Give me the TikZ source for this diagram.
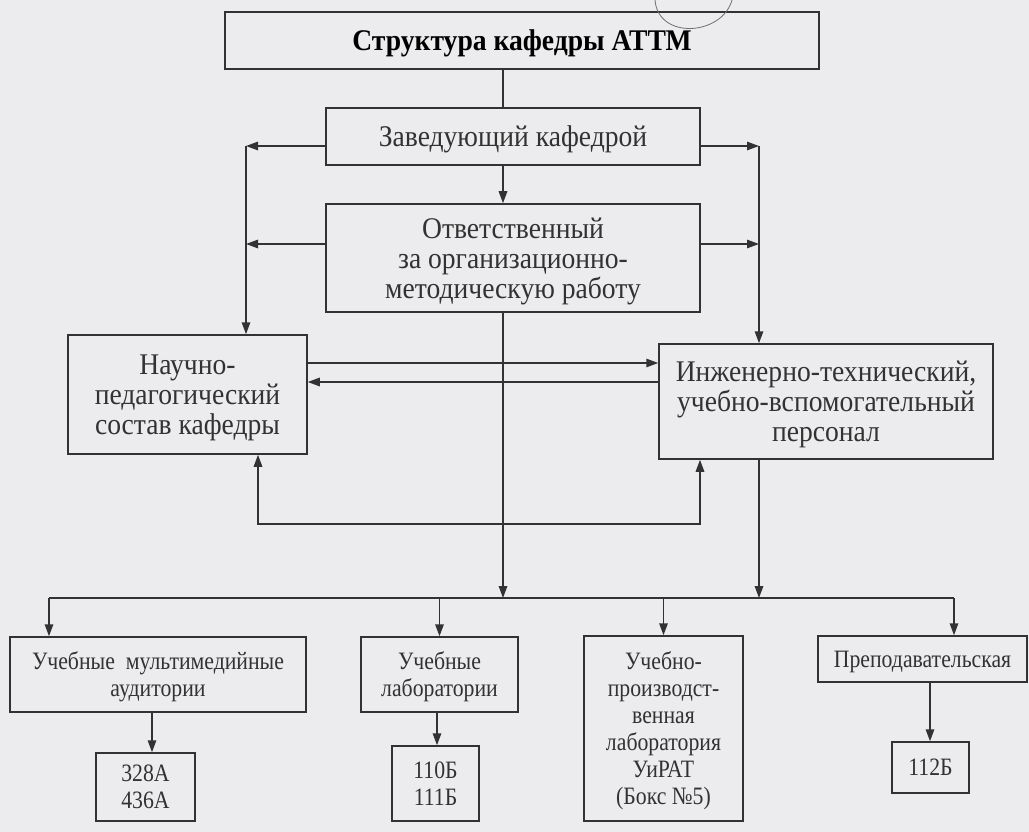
\documentclass[tikz,border=0pt]{standalone}
\usepackage{fontspec}
\setmainfont{Liberation Serif}[FakeStretch=0.92]
\newfontfamily\smallserif{Liberation Serif}[FakeStretch=0.87]
\usetikzlibrary{arrows.meta}
\definecolor{paper}{RGB}{236,236,238}
\definecolor{ink}{RGB}{50,50,50}
\begin{document}
\begin{tikzpicture}[x=1pt,y=-1pt,
  box/.style={draw=ink, line width=1.5pt, inner sep=0pt, align=center, text=ink,
              text depth=0pt, font=\fontsize{30}{30}\selectfont},
  sbox/.style={box, font=\smallserif\fontsize{25}{27}\selectfont},
  conn/.style={draw=ink, line width=1.5pt},
  tip/.tip={Triangle[length=12pt,width=8.5pt]},
  arr/.style={conn, -tip},
]
\fill[paper] (0,0) rectangle (1029,832);
\useasboundingbox (0,0) rectangle (1029,832);

% nodes
\node[box, minimum width=594pt, minimum height=57pt, text=black] (title) at (522,40.5) {\textbf{Структура кафедры АТТМ}};
\node[box, minimum width=374pt, minimum height=57pt] (zav) at (513,136.5) {Заведующий кафедрой};
\node[box, minimum width=374pt, minimum height=108pt] (otv) at (513,258) {Ответственный\\за организационно-\\методическую работу};
\node[box, minimum width=239pt, minimum height=119pt] (nauch) at (187.5,394.5) {Научно-\\педагогический\\состав кафедры};
\node[box, minimum width=334pt, minimum height=115pt] (inzh) at (826,401.5) {Инженерно-технический,\\учебно-вспомогательный\\персонал};

\node[sbox, minimum width=296pt, minimum height=75pt] (b1) at (158,674.5) {Учебные\ \ мультимедийные\\аудитории};
\node[sbox, minimum width=157pt, minimum height=75pt] (b2) at (439.5,674.5) {Учебные\\лаборатории};
\node[sbox, minimum width=159pt, minimum height=185pt] (b3) at (663.5,728.5) {Учебно-\\производст-\\венная\\лаборатория\\УиРАТ\\(Бокс №5)};
\node[sbox, minimum width=209pt, minimum height=46pt] (b4) at (922.5,659) {Преподавательская};

\node[sbox, minimum width=99pt, minimum height=68pt] (r1) at (145.5,787) {328А\\436А};
\node[sbox, minimum width=87pt, minimum height=75pt] (r2) at (435.5,783.5) {110Б\\111Б};
\node[sbox, minimum width=77pt, minimum height=51pt] (r4) at (930.5,767.5) {112Б};

% helper coordinates
\coordinate (cx) at (503,0);
\coordinate (zl) at (246,146);
\coordinate (zr) at (759,146);
\coordinate (ol) at (246,244);
\coordinate (orr) at (759,244);
\coordinate (h1) at (0,363);
\coordinate (h2) at (0,382);
\coordinate (la) at (258,524);
\coordinate (lb) at (700,524);
\coordinate (bc) at (503,598);
\coordinate (br) at (759,598);
\coordinate (bl) at (49,598);
\coordinate (be) at (954,598);
\coordinate (a1) at (152,0);
\coordinate (a2) at (437,0);
\coordinate (a4) at (930,0);

% connectors
\draw[conn] (title.south -| cx) -- (zav.north -| cx);
\draw[arr] (zav.south -| cx) -- (otv.north -| cx);
\draw[arr] (zav.west |- zl) -- (zl);
\draw[arr] (zav.east |- zr) -- (zr);
\draw[arr] (otv.west |- ol) -- (ol);
\draw[arr] (otv.east |- orr) -- (orr);
\draw[arr] (zl) -- (nauch.north -| zl);
\draw[arr] (zr) -- (inzh.north -| zr);
\draw[arr] (nauch.east |- h1) -- (inzh.west |- h1);
\draw[arr] (inzh.west |- h2) -- (nauch.east |- h2);
\draw[conn, tip-tip] (nauch.south -| la) -- (la) -- (lb) -- (inzh.south -| lb);
\draw[arr] (otv.south -| cx) -- (bc);
\draw[arr] (inzh.south -| br) -- (br);
\draw[conn] (bl) -- (be);
\draw[arr] (bl) -- (b1.north -| bl);
\draw[arr] (bl -| b2.north) -- (b2.north);
\draw[arr] (bl -| b3.north) -- (b3.north);
\draw[arr] (be) -- (b4.north -| be);
\draw[arr] (b1.south -| a1) -- (r1.north -| a1);
\draw[arr] (b2.south -| a2) -- (r2.north -| a2);
\draw[arr] (b4.south -| a4) -- (r4.north -| a4);

% pen mark at the top
\draw[ink!70, line width=0.8pt] (655,0) .. controls (658,40) and (722,36) .. (732,0);
\end{tikzpicture}
\end{document}
